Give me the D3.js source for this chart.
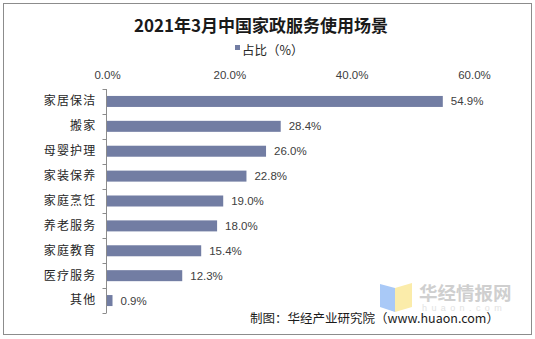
<!DOCTYPE html>
<html>
<head>
<meta charset="utf-8">
<script src="https://cdn.jsdelivr.net/npm/d3@7"></script>
<style>
  body { margin: 0; background: #fff; }
  svg { display: block; }
</style>
</head>
<body>
<svg id="chart"></svg>
<script>
const W = 535, H = 339;

// data
const categories = ['家居保洁', '搬家', '母婴护理', '家装保养', '家庭烹饪', '养老服务', '家庭教育', '医疗服务', '其他'];
const shares = [54.9, 28.4, 26.0, 22.8, 19.0, 18.0, 15.4, 12.3, 0.9];
const xTicks = [0, 20, 40, 60];

const titleText = '2021年3月中国家政服务使用场景';
const legendText = '占比（%）';
const sourceText = '制图：华经产业研究院（www.huaon.com）';

const barColor = '#727da3';
const textColor = '#404040';
const cjk = '"Noto Sans CJK SC", "Noto Sans", sans-serif';
const latin = '"Liberation Sans", Arial, sans-serif';

const svg = d3.select('#chart').attr('width', W).attr('height', H);

// outer frame
svg.append('rect')
  .attr('x', 3.5).attr('y', 3.5)
  .attr('width', 528).attr('height', 331)
  .attr('fill', '#fff')
  .attr('stroke', '#8c8c8c');

// title
svg.append('text')
  .attr('x', 261).attr('y', 32)
  .attr('text-anchor', 'middle')
  .attr('font-family', cjk)
  .attr('font-weight', 'bold')
  .attr('font-size', '17px')
  .attr('fill', '#1a1a1a')
  .text(titleText);

// legend
svg.append('rect')
  .attr('x', 235).attr('y', 45)
  .attr('width', 5).attr('height', 5)
  .attr('fill', barColor);
svg.append('text')
  .attr('x', 242).attr('y', 55)
  .attr('font-family', cjk)
  .attr('font-size', '12.5px')
  .attr('fill', '#262626')
  .text(legendText);

// scales
const x = d3.scaleLinear().domain([0, 60]).range([107, 474]);
const y = d3.scaleBand().domain(categories).range([89, 313]).padding(0);
const barH = 11;

// top axis labels only
const xAxis = svg.append('g')
  .attr('transform', 'translate(0,79)')
  .call(d3.axisTop(x).tickValues(xTicks).tickSize(0).tickPadding(0)
    .tickFormat(d => d.toFixed(1) + '%'));
xAxis.select('.domain').remove();
xAxis.selectAll('text')
  .attr('font-family', latin)
  .attr('font-size', '11.5px')
  .attr('fill', textColor);

// bars
svg.append('g')
  .selectAll('rect')
  .data(categories)
  .join('rect')
  .attr('x', x(0))
  .attr('y', d => y(d) + (y.bandwidth() - barH) / 2)
  .attr('width', (d, i) => x(shares[i]) - x(0))
  .attr('height', barH)
  .attr('fill', barColor);

// value labels
svg.append('g')
  .selectAll('text')
  .data(categories)
  .join('text')
  .attr('x', (d, i) => x(shares[i]) + 8)
  .attr('y', d => y(d) + y.bandwidth() / 2)
  .attr('dy', '0.35em')
  .attr('font-family', latin)
  .attr('font-size', '11.5px')
  .attr('fill', textColor)
  .text((d, i) => shares[i].toFixed(1) + '%');

// category axis
const yAxis = svg.append('g')
  .attr('transform', 'translate(106.5,0)')
  .call(d3.axisLeft(y).tickSize(0).tickPadding(10));
yAxis.select('.domain')
  .attr('stroke', '#8c8c8c')
  .attr('d', `M0,${y.range()[0]}V${y.range()[1]}`);
yAxis.selectAll('text')
  .attr('font-family', cjk)
  .attr('font-size', '12px')
  .attr('letter-spacing', '1.2px')
  .attr('fill', '#262626');

// tick marks at band edges
const edges = categories.map(c => y(c)).concat([y.range()[1]]);
yAxis.selectAll('.edge')
  .data(edges)
  .join('line')
  .attr('class', 'edge')
  .attr('x1', -4).attr('x2', 0)
  .attr('y1', d => Math.round(d) + 0.5)
  .attr('y2', d => Math.round(d) + 0.5)
  .attr('stroke', '#8c8c8c');

// watermark
const wm = svg.append('g');
wm.append('path')
  .attr('d', 'M380,284 L395,288 L395,312 L380,307 Z')
  .attr('fill', '#a9c9f7');
wm.append('path')
  .attr('d', 'M395,288 L412,283 L412,307 L395,312 Z')
  .attr('fill', '#fbecaa');
wm.append('text')
  .attr('x', 419).attr('y', 300)
  .attr('font-family', cjk)
  .attr('font-weight', 'bold')
  .attr('font-size', '18.5px')
  .attr('fill', '#cfcfcf')
  .text('华经情报网');
wm.append('text')
  .attr('x', 422).attr('y', 311)
  .attr('font-family', latin)
  .attr('font-size', '9px')
  .attr('letter-spacing', '4.4px')
  .attr('fill', '#e2e2e2')
  .text('huaon.com');

// source note
svg.append('text')
  .attr('x', 250).attr('y', 323)
  .attr('font-family', cjk)
  .attr('font-size', '12.5px')
  .attr('fill', '#1a1a1a')
  .text(sourceText);
</script>
</body>
</html>
